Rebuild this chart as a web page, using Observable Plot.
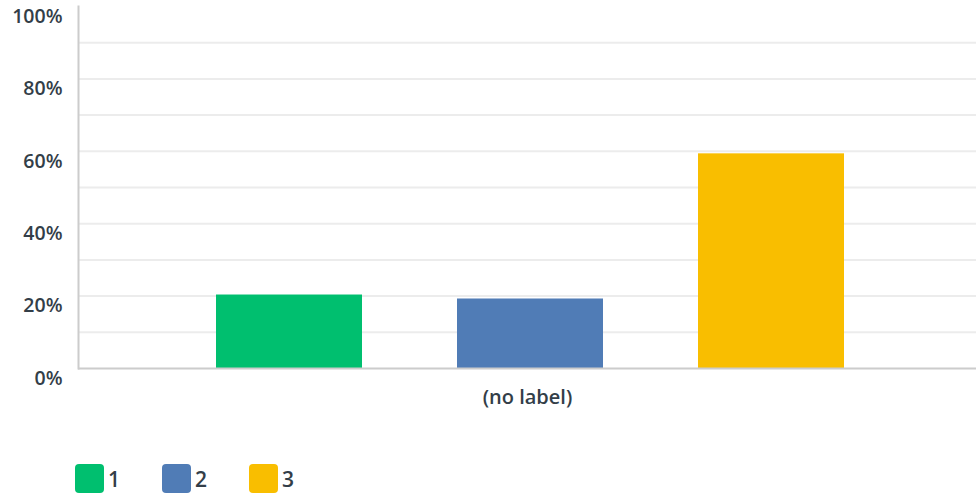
<!DOCTYPE html>
<html>
<head>
<meta charset="utf-8">
<script src="https://cdn.jsdelivr.net/npm/d3@7"></script>
<script src="https://cdn.jsdelivr.net/npm/@observablehq/plot@0.6"></script>
<style>
  body { margin: 0; background: #fff; font-family: "Open Sans", sans-serif; }
  #wrap { position: relative; width: 976px; height: 495px; }
  #legend { position: absolute; left: 75px; top: 464px; display: flex; gap: 0; }
  .item { display: flex; align-items: center; width: 87px; }
  .sw { width: 29px; height: 29px; border-radius: 4px; margin-right: 4px; }
  .lab { font-size: 21px; font-weight: 600; color: #333e48; }
</style>
</head>
<body>
<div id="wrap">
  <div id="chart"></div>
  <div id="legend"></div>
</div>
<script>
const question = "(no label)";
const answers = ["1", "2", "3"];
const values = [20.3, 19.2, 59.3];
const colors = ["#00bf6f", "#507cb6", "#f9be00"];
const yTicks = [0, 20, 40, 60, 80, 100];
const gridTicks = [10, 20, 30, 40, 50, 60, 70, 80, 90];

const data = answers.map((a, i) => ({question, answer: a, value: values[i]}));

const ink = "#333e48";
const chart = Plot.plot({
  width: 976,
  height: 440,
  marginLeft: 78,
  marginRight: 0,
  marginTop: 6,
  marginBottom: 72,
  style: {fontFamily: "'Open Sans', sans-serif", color: ink},
  fx: {domain: [question], padding: 0, label: null},
  x: {domain: answers, paddingInner: 0.395, paddingOuter: 0.557, align: 0.51, axis: null},
  y: {domain: [0, 100], axis: null},
  color: {domain: answers, range: colors},
  marks: [
    Plot.gridY(gridTicks, {stroke: "#ececec", strokeWidth: 2, strokeOpacity: 1}),
    Plot.barY(data, {fx: "question", x: "answer", y: "value", fill: "answer"}),
    Plot.ruleY([0], {stroke: "#cccccc", strokeWidth: 2}),
    Plot.frame({anchor: "left", stroke: "#cccccc", strokeWidth: 2}),
    Plot.axisY(yTicks, {tickSize: 0, tickPadding: 16, dy: 10, tickFormat: d => d + "%",
      fontSize: 19.5, fontWeight: 600, fill: ink, label: null}),
    Plot.axisFx({anchor: "bottom", tickSize: 0, tickPadding: 21, fontSize: 20, fontWeight: 600, fill: ink, label: null})
  ]
});
document.getElementById("chart").appendChild(chart);

const legend = document.getElementById("legend");
answers.forEach((a, i) => {
  const item = document.createElement("div");
  item.className = "item";
  item.innerHTML = `<div class="sw" style="background:${colors[i]}"></div><span class="lab">${a}</span>`;
  legend.appendChild(item);
});
</script>
</body>
</html>
